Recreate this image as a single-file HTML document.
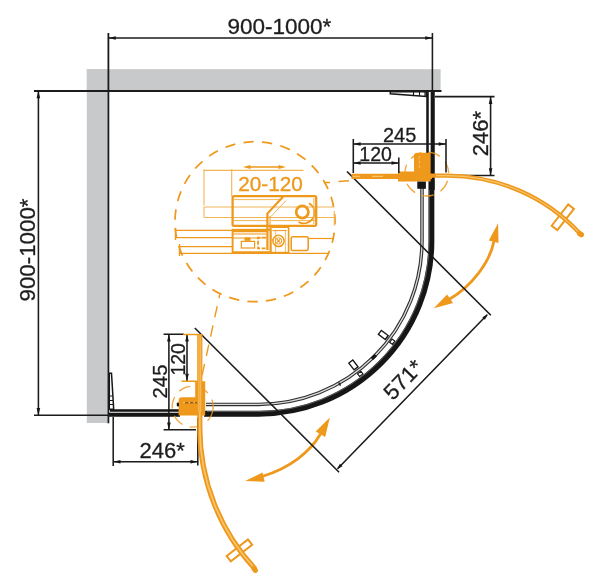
<!DOCTYPE html>
<html><head><meta charset="utf-8">
<style>
html,body{margin:0;padding:0;background:#fff;}
svg{display:block;font-family:"Liberation Sans",sans-serif;}
.t{fill:#1e1e1e;stroke:#1e1e1e;stroke-width:0.3;font-size:20px;}
.k{stroke:#1a1a1a;stroke-width:1.55;fill:none;}
.o{stroke:#ee981c;fill:none;}
</style></head><body>
<svg width="600" height="588" viewBox="0 0 600 588">
<defs>
<filter id="bl" x="-2%" y="-2%" width="104%" height="104%"><feGaussianBlur stdDeviation="0.6"/></filter>
</defs>
<rect width="600" height="588" fill="#fff"/>
<g filter="url(#bl)">
<g id="walls"><rect x="86.8" y="69.2" width="353.8" height="20.8" fill="#c8c9cb"/><rect x="86.8" y="69.2" width="20.8" height="353.8" fill="#c8c9cb"/></g>
<g id="detail" class="o">
<circle cx="255" cy="221.7" r="80" stroke-width="1.75" stroke-dasharray="10.3 8.317" transform="rotate(-5.4 255 221.7)"/>
<path d="M219.8 294.3L200 385" stroke-width="1.4" stroke-dasharray="11.4 8.3" stroke-dashoffset="7.5"/>
<path d="M324.5 182.6H330M338.5 181.6L349 180.7" stroke-width="1.5"/>
</g>
<g id="detailin" fill="none" stroke="#ee981c">
<path d="M204 170.4H303.5M204 169V205.5M231.7 169V196" stroke-width="1.1" stroke="#f2b556"/>
<path d="M247 167H282" stroke-width="1.5"/>
<path d="M243.00 167.00L250.50 165.00L250.50 169.00Z" fill="#ee981c" stroke="none"/>
<path d="M286.00 167.00L278.50 169.00L278.50 165.00Z" fill="#ee981c" stroke="none"/>
<path d="M204 207H334.3M204 217.5H334.3M204 207V217.5M334.3 211V225.5" stroke-width="1.1" stroke="#f2b556"/>
<rect x="232.6" y="196.2" width="83.6" height="29.6" rx="1.5" stroke-width="2.3"/>
<path d="M234 199.6H281M234 220.6H268M271 220.6H315" stroke-width="1" stroke="#f2b556"/>
<path d="M283 196.8L267.4 213.6V250" stroke-width="2.2"/>
<path d="M270 216V229" stroke-width="1" />
<path d="M286 200.5L271 216.5" stroke-width="1" stroke="#f2b556"/>
<circle cx="302.3" cy="212" r="6.1" stroke-width="2.7"/>
<path d="M309 203.2A10.6 10.6 0 0 1 298.5 222" stroke-width="1.6"/>
<path d="M313.8 198V224" stroke-width="1" stroke="#f2b556"/>
<path d="M175.5 230.4H268M175.5 237.6H232M175.5 228V240M179.5 246.6H232M179.5 253.4H329M179.5 244V256" stroke-width="1.4"/>
<rect x="232.6" y="229.8" width="38" height="22.4" stroke-width="1.9"/>
<path d="M232.6 231.2H268" stroke-width="2.2"/>
<path d="M233 234H266M233 238H262" stroke-width="1"/>
<rect x="241.3" y="241.4" width="13.3" height="6.6" stroke-width="1.2"/>
<rect x="244.5" y="237.4" width="6" height="3.4" fill="#ee981c" stroke="none"/>
<path d="M266 237.6H258V248.4H266" stroke-width="1.8" stroke-dasharray="4 1.6"/>
<rect x="270.6" y="227.2" width="18" height="25.4" stroke-width="1.6"/>
<path d="M275.6 230V252M285.4 230V252" stroke-width="0.9" stroke="#f2b556"/>
<path d="M272.5 230.6H286.5" stroke-width="1"/>
<circle cx="278.5" cy="240.9" r="5.6" stroke-width="1.5"/>
<circle cx="278.5" cy="240.9" r="3.2" stroke-width="1"/>
<path d="M276.8 239.2l3.4 3.4M280.2 239.2l-3.4 3.4" stroke-width="1.1"/>
<rect x="291.2" y="236.8" width="17" height="13.8" rx="1.5" stroke-width="1.5"/>
<path d="M308 238.5H333.5" stroke-width="1.2"/>
</g>
<text x="270.5" y="190.7" text-anchor="middle" textLength="64.5" lengthAdjust="spacingAndGlyphs" style="font-size:20.5px" fill="#ee981c" stroke="#ee981c" stroke-width="0.35">20-120</text>
<g id="frame" fill="none">
<path d="M422.0 187V241.05A163.3 163.3 0 0 1 258.7 404.4H206" stroke="#2e2e2e" stroke-width="3.5"/>
<path d="M422.0 187V241.05A163.3 163.3 0 0 1 258.7 404.4H206" stroke="#dcdcdc" stroke-width="1.3"/>
<path d="M431.40 181V241.05A172.7 172.7 0 0 1 258.7 413.75H204" stroke="#161616" stroke-width="5.9"/>
<path d="M429.20 190V241.05A170.5 170.5 0 0 1 258.7 411.55H207" stroke="#8a8a8a" stroke-width="0.6"/>
<path d="M427.5 92V156" stroke="#161616" stroke-width="2.5"/>
<path d="M110 410.5H180" stroke="#161616" stroke-width="2.4"/>
<path d="M109 414.7H180" stroke="#161616" stroke-width="4"/>
<path d="M414 156q0-3.2 3.2-3.2H431.2V181.4H398V171.4H414Z" fill="#ee981c"/>
<path d="M182 397.2q-3.4 0-3.4 3.4V415.6H205.2V381.2H195.2V397.2Z" fill="#ee981c"/>
<rect x="176.8" y="402.6" width="2.2" height="4" rx="1" fill="#161616"/>
<path d="M432.7 91V190" stroke="#161616" stroke-width="4.1"/>
</g>
<g id="profiles" stroke="#161616" stroke-width="1.5" fill="#fff">
<path d="M109.3 373.3h2.2l2.2 36H109.3Z"/>
<path d="M109.3 396h3.3M109.3 400.5h3.6M109.3 404.5h3.9" stroke-width="1.1"/>
<path d="M390.3 91.8v1.9l36 2.7V91.8Z"/>
<path d="M413.5 92v3.3M419.5 92v3.8M425 92v4" stroke-width="1.1"/>
</g>
<g id="handles">
<path d="M385.22 339.52L378.35 334.34L381.36 330.35L388.23 335.52Z" fill="#fff" stroke="#161616" stroke-width="1.35"/>
<path d="M392.33 344.37L389.61 342.33L392.14 338.97L394.85 341.02Z" fill="#fff" stroke="#161616" stroke-width="1.2"/>
<path d="M354.08 369.91L348.85 363.08L352.82 360.04L358.05 366.88Z" fill="#fff" stroke="#161616" stroke-width="1.35"/>
<path d="M359.62 376.50L357.55 373.80L360.89 371.25L362.95 373.95Z" fill="#fff" stroke="#161616" stroke-width="1.2"/>
<path d="M373.01 360.07L370.62 357.65L374.52 353.78L376.92 356.19Z" fill="#161616" stroke="none"/>
<path d="M339.88 385.96L338.11 382.83L339.33 382.14L341.10 385.27Z" fill="#161616" stroke="none"/>
</g>
<g id="hinges">
<path d="M419.3 156v12M419.3 176v4M408 176h10" stroke="#f8c56e" stroke-width="0.9" stroke-dasharray="3 1.5" fill="none"/>
<rect x="417.3" y="181.6" width="8.6" height="7.2" fill="#161616"/>
<circle cx="426.7" cy="174" r="22" fill="none" stroke="#ee981c" stroke-width="1.3" stroke-dasharray="12 7.5" transform="rotate(20 426.7 174)" opacity="0.85"/>
<path d="M183 402.5h12M199 402.5h4M201 390v10" stroke="#f8c56e" stroke-width="0.9" stroke-dasharray="3 1.5" fill="none"/>
<path d="M185 402.8h14" stroke="#5a3a10" stroke-width="0.9" stroke-dasharray="3.5 1.5" fill="none"/>
<circle cx="192.7" cy="406.7" r="20.5" fill="none" stroke="#ee981c" stroke-width="1.3" stroke-dasharray="12 7.5" transform="rotate(10 192.7 406.7)" opacity="0.85"/>
</g>
<g id="swing" fill="none">
<path d="M494 241C490 262 472 286 449 299.5" stroke="#ee981c" stroke-width="2.8"/>
<path d="M498.1 223.2L488.8 240.5L498.5 243.0Z" fill="#ee981c" stroke="none"/>
<path d="M433.8 308.2L447.1 294.6L453.1 303.1Z" fill="#ee981c" stroke="none"/>
<path d="M320.5 434C310 452 290 468 262 476.5" stroke="#ee981c" stroke-width="2.8"/>
<path d="M329.8 417.5L315.7 431.6L325.2 437.1Z" fill="#ee981c" stroke="none"/>
<path d="M245.1 481.1L262.5 472.5L264.7 481.7Z" fill="#ee981c" stroke="none"/>
</g>
<g id="dimlines" class="k">
<path d="M34 91H441.5" stroke-width="1.8"/>
<path d="M108.4 33V423.3" stroke-width="1.8"/>
<path d="M432.4 33V92"/>
<path d="M108.5 38H432.5"/>
<path d="M38.4 91V415"/>
<path d="M34 415.3H112"/>
<path d="M435 96.6H494.5M446 175.5H494.5M490.6 96.6V175.5"/>
<path d="M353.3 139V173M446 139V172.5M353.3 144H446M398.8 157.5V173M353.3 163H398.8"/>
<path d="M113.2 417V466M197.8 418V465.5M113.2 461.8H197.8"/>
<path d="M163.6 334.3H184M163.6 429.8H196M168.9 334.3V429.8M187 334.3V381"/>
<path d="M194.8 328L339.1 472.3M347 171.5L490.8 315.3M337.6 468.7L487.2 314.8"/>
</g>
<g id="arrows">
<path d="M108.50 38.00L115.80 36.20L115.80 39.80Z" fill="#161616" stroke="none"/>
<path d="M432.50 38.00L425.20 39.80L425.20 36.20Z" fill="#161616" stroke="none"/>
<path d="M38.40 91.00L40.20 98.30L36.60 98.30Z" fill="#161616" stroke="none"/>
<path d="M38.40 415.30L36.60 408.00L40.20 408.00Z" fill="#161616" stroke="none"/>
<path d="M490.60 96.60L492.40 103.90L488.80 103.90Z" fill="#161616" stroke="none"/>
<path d="M490.60 175.50L488.80 168.20L492.40 168.20Z" fill="#161616" stroke="none"/>
<path d="M353.30 144.00L360.60 142.20L360.60 145.80Z" fill="#161616" stroke="none"/>
<path d="M446.00 144.00L438.70 145.80L438.70 142.20Z" fill="#161616" stroke="none"/>
<path d="M353.30 163.00L360.60 161.20L360.60 164.80Z" fill="#161616" stroke="none"/>
<path d="M398.80 163.00L391.50 164.80L391.50 161.20Z" fill="#161616" stroke="none"/>
<path d="M113.20 461.80L120.50 460.00L120.50 463.60Z" fill="#161616" stroke="none"/>
<path d="M197.80 461.80L190.50 463.60L190.50 460.00Z" fill="#161616" stroke="none"/>
<path d="M168.90 334.30L170.70 341.60L167.10 341.60Z" fill="#161616" stroke="none"/>
<path d="M168.90 429.80L167.10 422.50L170.70 422.50Z" fill="#161616" stroke="none"/>
<path d="M187.00 334.30L188.80 341.60L185.20 341.60Z" fill="#161616" stroke="none"/>
<path d="M187.00 381.00L185.20 373.70L188.80 373.70Z" fill="#161616" stroke="none"/>
<path d="M337.00 469.30L339.89 463.74L342.47 466.25Z" fill="#161616" stroke="none"/>
<path d="M487.80 314.20L484.91 319.76L482.33 317.25Z" fill="#161616" stroke="none"/>
</g>
<g id="doors" fill="none" stroke-linecap="butt">
<path d="M551.67 225.74L568.25 204.44L573.93 208.86L557.35 230.16Z" fill="#fff" stroke="#ee981c" stroke-width="2"/>
<path d="M226.64 555.97L248.00 539.45L252.16 544.83L230.80 561.35Z" fill="#fff" stroke="#ee981c" stroke-width="2"/>
<path d="M351.5 176.4H432" stroke="#ee981c" stroke-width="5.4"/>
<path d="M431 175.60H447.1A181.3 181.3 0 0 1 580.13 233.72" stroke="#ee981c" stroke-width="4.2"/>
<path d="M353 176.4H360M372 176.4H383" stroke="#f8c56e" stroke-width="1.2"/>
<path d="M436 175.60H447.1A181.3 181.3 0 0 1 580.13 233.72" stroke="#f8c56e" stroke-width="1.1"/>
<ellipse cx="580.7" cy="233.9" rx="3.7" ry="2.8" transform="rotate(30 580.1 233.7)" fill="#ee981c" stroke="none"/>
<path d="M199.8 334V428.2A208.0 208.0 0 0 0 255.09 568.99" stroke="#ee981c" stroke-width="5.2"/>
<path d="M199.8 335.5V428.2A208.0 208.0 0 0 0 255.09 568.99" stroke="#f8c56e" stroke-width="1.7"/>
<path d="M199.8 335.5V412" stroke="#f8c56e" stroke-width="2.8"/>
<path d="M199.8 335.5V412" stroke="#ee981c" stroke-width="0.8"/>
<ellipse cx="255.3" cy="569.6" rx="3.7" ry="2.8" transform="rotate(55 255.1 569.0)" fill="#ee981c" stroke="none"/>
<path d="M183 334.4H198M181.5 381.2H197" stroke="#ee981c" stroke-width="1.5"/>
</g>
<g id="text" class="t">
<text x="279.4" y="33.7" text-anchor="middle" textLength="104" lengthAdjust="spacingAndGlyphs" style="font-size:22.3px">900-1000*</text>
<text transform="translate(34.8 250) rotate(-90)" text-anchor="middle" textLength="103" lengthAdjust="spacingAndGlyphs" style="font-size:22.3px">900-1000*</text>
<text x="399.6" y="142.3" text-anchor="middle" style="font-size:20px">245</text>
<text x="375.6" y="160.7" text-anchor="middle" style="font-size:19.5px">120</text>
<text transform="translate(487.7 133.6) rotate(-90)" text-anchor="middle" style="font-size:22px">246*</text>
<text x="162.2" y="458.3" text-anchor="middle" style="font-size:22px">246*</text>
<text transform="translate(167 381.5) rotate(-90)" text-anchor="middle" style="font-size:20.3px">245</text>
<text transform="translate(184.7 359.3) rotate(-90)" text-anchor="middle" style="font-size:19.5px">120</text>
<text transform="translate(408.6 384.9) rotate(-45.8)" text-anchor="middle" style="font-size:22px">571*</text>
</g>
</g></svg></body></html>
